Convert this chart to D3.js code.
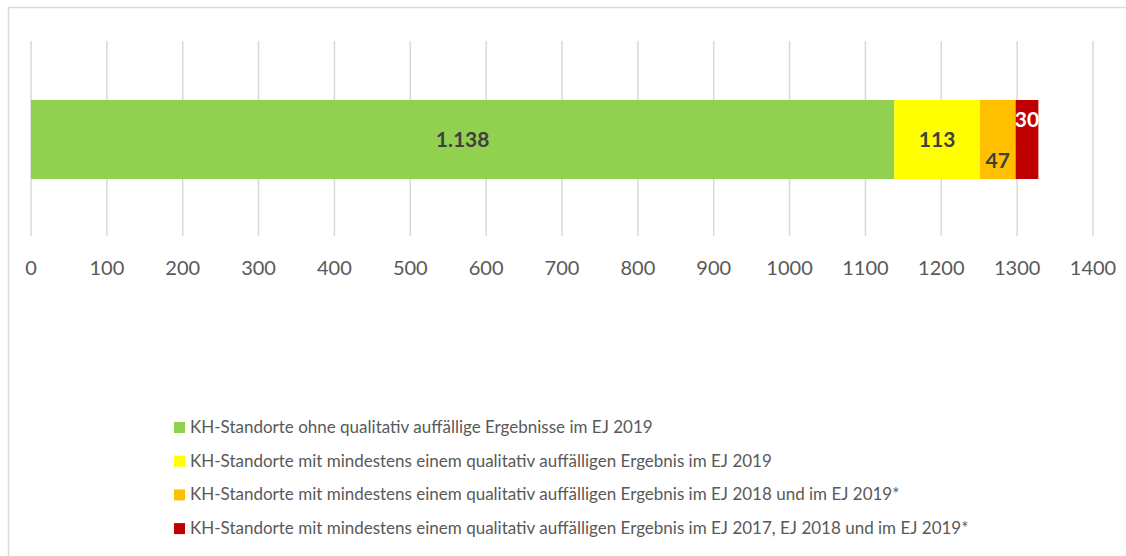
<!DOCTYPE html>
<html>
<head>
<meta charset="utf-8">
<script src="https://cdn.jsdelivr.net/npm/d3@7"></script>
<style>
  body { margin: 0; background: #fff; }
  svg { display: block; font-family: Lato, "Open Sans", sans-serif; }
</style>
</head>
<body>
<svg width="1126" height="556"></svg>
<script>
// data
var seriesNames = [
  "KH-Standorte ohne qualitativ auffällige Ergebnisse im EJ 2019",
  "KH-Standorte mit mindestens einem qualitativ auffälligen Ergebnis im EJ 2019",
  "KH-Standorte mit mindestens einem qualitativ auffälligen Ergebnis im EJ 2018 und im EJ 2019*",
  "KH-Standorte mit mindestens einem qualitativ auffälligen Ergebnis im EJ 2017, EJ 2018 und im EJ 2019*"
];
var seriesValues = [1138, 113, 47, 30];
var valueLabels = ["1.138", "113", "47", "30"];
var seriesColors = ["#92D050", "#FFFF00", "#FFC000", "#C00000"];
var tickValues = [0, 100, 200, 300, 400, 500, 600, 700, 800, 900, 1000, 1100, 1200, 1300, 1400];

var svg = d3.select("svg");

// chart frame
svg.append("rect")
  .attr("x", 8.5).attr("y", 7.5)
  .attr("width", 1130).attr("height", 560)
  .attr("fill", "none")
  .attr("stroke", "#d9d9d9")
  .attr("stroke-width", 1.5);

var x = d3.scaleLinear().domain([0, 1400]).range([31, 1093]);

//###############################################
// grid + axis
//###############################################
svg.append("g")
  .selectAll("line")
  .data(tickValues)
  .enter().append("line")
    .attr("x1", function(d) { return x(d); })
    .attr("x2", function(d) { return x(d); })
    .attr("y1", 41).attr("y2", 236)
    .attr("stroke", "#d9d9d9")
    .attr("stroke-width", 1.5);

svg.append("g")
  .selectAll("text")
  .data(tickValues)
  .enter().append("text")
    .attr("x", function(d) { return x(d); })
    .attr("y", 275)
    .attr("text-anchor", "middle")
    .attr("font-size", 20)
    .attr("fill", "#595959")
    .text(function(d) { return d; });

//###############################################
// stacked bar
//###############################################
var stack = [];
var acc = 0;
seriesValues.forEach(function(v, i) {
  stack.push({ x0: acc, x1: acc + v, color: seriesColors[i], label: valueLabels[i], i: i });
  acc += v;
});

var barY = 100, barH = 79;

svg.append("g")
  .selectAll("rect")
  .data(stack)
  .enter().append("rect")
    .attr("x", function(d) { return x(d.x0); })
    .attr("width", function(d) { return x(d.x1) - x(d.x0); })
    .attr("y", barY)
    .attr("height", barH)
    .attr("fill", function(d) { return d.color; });

// label vertical offsets as placed in the original
var labelDy = [0, 0, 21, -20];
svg.append("g")
  .selectAll("text")
  .data(stack)
  .enter().append("text")
    .attr("x", function(d) { return (x(d.x0) + x(d.x1)) / 2; })
    .attr("y", function(d) { return barY + barH / 2 + 7 + labelDy[d.i]; })
    .attr("text-anchor", "middle")
    .attr("font-size", 21)
    .attr("font-weight", "bold")
    .attr("fill", function(d) { return d.i === 3 ? "#ffffff" : "#404040"; })
    .text(function(d) { return d.label; });

//###############################################
// legend
//###############################################
var legend = svg.append("g")
  .selectAll("g")
  .data(seriesNames)
  .enter().append("g")
    .attr("transform", function(d, i) { return "translate(174," + (427 + i * 33.7) + ")"; });

legend.append("rect")
  .attr("x", 0).attr("y", -5)
  .attr("width", 11).attr("height", 11)
  .attr("fill", function(d, i) { return seriesColors[i]; });

legend.append("text")
  .attr("x", 16)
  .attr("y", 6)
  .attr("font-size", 17)
  .attr("fill", "#595959")
  .text(function(d) { return d; });
</script>
</body>
</html>
